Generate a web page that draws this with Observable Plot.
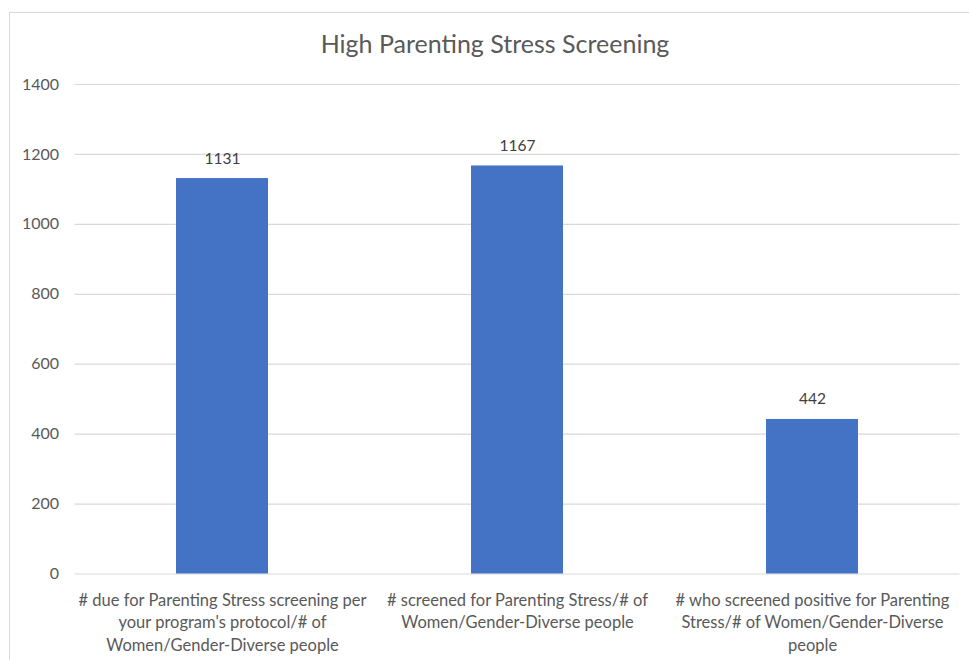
<!DOCTYPE html>
<html>
<head>
<meta charset="utf-8">
<script src="https://cdn.jsdelivr.net/npm/d3@7"></script>
<script src="https://cdn.jsdelivr.net/npm/@observablehq/plot@0.6"></script>
<style>
  html, body { margin: 0; padding: 0; background: #fff; overflow: hidden; }
  #wrap { position: relative; width: 969px; height: 660px; font-family: Lato, "Open Sans", sans-serif; }
  #frame { position: absolute; left: 9px; top: 12px; width: 975px; height: 670px; border: 1.5px solid #d9d9d9; box-sizing: border-box; }
  #title { position: absolute; top: 27px; left: 0; width: 990px; text-align: center; font-size: 25px; line-height: 32px; color: #595959; }
  #chart { position: absolute; left: 0; top: 60px; }
</style>
</head>
<body>
<div id="wrap">
  <div id="frame"></div>
  <div id="title">High Parenting Stress Screening</div>
  <div id="chart"></div>
</div>
<script>
const categories = [
  "# due for Parenting Stress screening per your program's protocol/# of Women/Gender-Diverse people",
  "# screened for Parenting Stress/# of Women/Gender-Diverse people",
  "# who screened positive for Parenting Stress/# of Women/Gender-Diverse people"
];
const categoryLines = [
  ["# due for Parenting Stress screening per", "your program's protocol/# of", "Women/Gender-Diverse people"],
  ["# screened for Parenting Stress/# of", "Women/Gender-Diverse people"],
  ["# who screened positive for Parenting", "Stress/# of Women/Gender-Diverse", "people"]
];
const values = [1131, 1167, 442];
const yTicks = [0, 200, 400, 600, 800, 1000, 1200, 1400];

const data = categories.map((c, i) => ({category: c, value: values[i]}));
const labelOf = new Map(categories.map((c, i) => [c, categoryLines[i].join("\n")]));

const plot = Plot.plot({
  width: 969,
  height: 600,
  marginTop: 24,
  marginBottom: 86.5,
  marginLeft: 74.5,
  marginRight: 9.5,
  style: {fontFamily: "Lato, 'Open Sans', sans-serif", fontSize: "13px", color: "#595959", background: "transparent", overflow: "visible"},
  x: {domain: categories, paddingInner: 0.688, paddingOuter: 0.344, label: null},
  y: {domain: [0, 1400], ticks: yTicks, label: null},
  marks: [
    Plot.gridY(yTicks, {stroke: "#d9d9d9", strokeOpacity: 1, strokeWidth: 1.2}),
    Plot.barY(data, {x: "category", y: "value", fill: "#4472C4"}),
    Plot.text(data, {x: "category", y: "value", text: d => String(d.value), lineAnchor: "middle", dy: -20, fill: "#404040", fontSize: 15.5}),
    Plot.axisY(yTicks, {tickSize: 0, tickPadding: 16, fontSize: 16, fill: "#595959", tickFormat: d => String(d), label: null}),
    Plot.axisX({tickSize: 0, tickPadding: 16, fontSize: 16.5, fill: "#595959", lineHeight: 1.36, tickFormat: d => labelOf.get(d), label: null})
  ]
});
document.getElementById("chart").appendChild(plot);
</script>
</body>
</html>
